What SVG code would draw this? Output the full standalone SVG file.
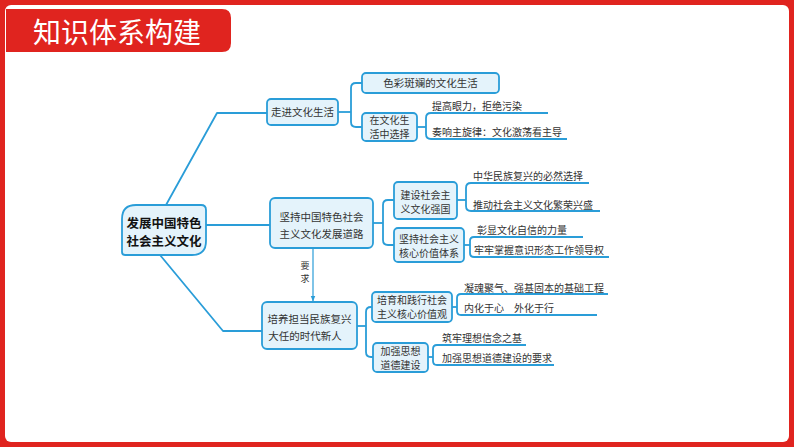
<svg xmlns="http://www.w3.org/2000/svg" width="794" height="447" viewBox="0 0 794 447">
<style>
.box{fill:#e4f3fb;stroke:#2a9dd8;stroke-width:1.8}
.ln{fill:none;stroke:#2a9dd8;stroke-width:1.8;stroke-linejoin:round}
.t{font-family:"Noto Sans CJK SC","Noto Sans",sans-serif;font-size:10.5px;fill:#333}
.c{text-anchor:middle}
.lf{font-size:10px}
.sm{font-size:10px}
.tiny{font-size:9px}
.root{font-family:"Noto Sans CJK SC","Noto Sans",sans-serif;font-size:12.5px;font-weight:bold;fill:#111;text-anchor:middle}
</style>
<defs>
<marker id="ah" viewBox="0 0 10 10" refX="9" refY="5" markerWidth="6" markerHeight="6" orient="auto" markerUnits="userSpaceOnUse">
<path d="M0,1 L10,5 L0,9 Z" fill="#2a9dd8"/>
</marker>
</defs>
<g id="frame">
<rect x="0" y="0" width="794" height="447" fill="#e0241f"/>
<rect x="5" y="5" width="784" height="437" rx="6" fill="#ffffff"/>
<path d="M6,9 H222 Q231,9 231,18 V43 Q231,52 222,52 H6 Z" fill="#e0241f"/>
<text x="117" y="43" font-family="'Noto Sans CJK SC',sans-serif" font-size="28" fill="#ffffff" text-anchor="middle">知识体系构建</text>
</g>
<g id="connectors">
<path class="ln" d="M166,205 L217,113 H267"/>
<path class="ln" d="M206,225 H270"/>
<path class="ln" d="M160,255 L223,331 H262"/>
<path class="ln" d="M338,112 H351"/>
<path class="ln" d="M362,83 H356 Q351,83 351,88 V122 Q351,127 356,127 H362"/>
<path class="ln" d="M417,127 H426"/>
<path class="ln" d="M548,113 H431 Q426,113 426,118 V134 Q426,139 431,139 H567"/>
<path class="ln" d="M373,223 H383"/>
<path class="ln" d="M394,200 H388 Q383,200 383,205 V240 Q383,245 388,245 H394"/>
<path class="ln" d="M457,200 H466"/>
<path class="ln" d="M589,183 H471 Q466,183 466,188 V206 Q466,211 471,211 H600"/>
<path class="ln" d="M464,245 H470"/>
<path class="ln" d="M583,237 H474 Q470,237 470,241 V253 Q470,257 474,257 H609"/>
<path class="ln" d="M357,326 H366"/>
<path class="ln" d="M372,307 H371 Q366,307 366,312 V352 Q366,357 371,357 H373"/>
<path class="ln" d="M452,307 H457"/>
<path class="ln" d="M608,294 H461 Q457,294 457,298 V311 Q457,315 461,315 H597"/>
<path class="ln" d="M428,357 H433"/>
<path class="ln" d="M526,345 H437 Q433,345 433,349 V361 Q433,365 437,365 H554"/>
<path fill="none" stroke="#2a9dd8" stroke-width="1.2" d="M313,248 V301" marker-end="url(#ah)"/>
<text class="t tiny c" x="305" y="269">要</text>
<text class="t tiny c" x="305" y="282">求</text>
</g>
<g id="root">
<path class="box" d="M136,205 H201 Q206,205 206,210 V241 Q206,255 192,255 H125 Q122,255 122,252 V219 Q122,205 136,205 Z"/>
<text class="root" x="164" y="228">发展中国特色</text>
<text class="root" x="164" y="246">社会主义文化</text>
</g>
<g id="n-zoujin">
<rect class="box" x="267" y="99" width="71" height="26" rx="4"/>
<text class="t c" x="302.5" y="116">走进文化生活</text>
</g>
<g id="n-secai">
<rect class="box" x="362" y="73" width="137" height="20" rx="4"/>
<text class="t c" x="430.5" y="87">色彩斑斓的文化生活</text>
</g>
<g id="n-xuanze">
<rect class="box" x="362" y="113" width="55" height="28" rx="4"/>
<text class="t sm c" x="389.5" y="124">在文化生</text>
<text class="t sm c" x="389.5" y="138">活中选择</text>
</g>
<g id="l-tigao"><text class="t lf" x="432" y="110">提高眼力，拒绝污染</text></g>
<g id="l-zouxiang"><text class="t lf" x="432" y="136">奏响主旋律：文化激荡看主导</text></g>
<g id="n-jianchi">
<rect class="box" x="270" y="198" width="103" height="50" rx="5"/>
<text class="t c" x="321.5" y="221">坚持中国特色社会</text>
<text class="t c" x="321.5" y="238">主义文化发展道路</text>
</g>
<g id="n-jianshe">
<rect class="box" x="394" y="182" width="63" height="37" rx="4"/>
<text class="t sm c" x="425.5" y="199">建设社会主</text>
<text class="t sm c" x="425.5" y="213">义文化强国</text>
</g>
<g id="n-hexin">
<rect class="box" x="394" y="228" width="70" height="34" rx="4"/>
<text class="t sm c" x="429" y="243">坚持社会主义</text>
<text class="t sm c" x="429" y="257">核心价值体系</text>
</g>
<g id="l-zhonghua"><text class="t lf" x="473" y="180">中华民族复兴的必然选择</text></g>
<g id="l-tuidong"><text class="t lf" x="473" y="209">推动社会主义文化繁荣兴盛</text></g>
<g id="l-zhangxian"><text class="t lf" x="477" y="234">彰显文化自信的力量</text></g>
<g id="l-laolao"><text class="t lf" x="474" y="254">牢牢掌握意识形态工作领导权</text></g>
<g id="n-peiyang">
<rect class="box" x="262" y="302" width="95" height="47" rx="5"/>
<text class="t c" x="309.5" y="323">培养担当民族复兴</text>
<text class="t c" x="305" y="340">大任的时代新人</text>
</g>
<g id="n-peiyu">
<rect class="box" x="372" y="292" width="80" height="30" rx="4"/>
<text class="t sm c" x="412" y="304">培育和践行社会</text>
<text class="t sm c" x="412" y="318">主义核心价值观</text>
</g>
<g id="n-jiaqiang">
<rect class="box" x="373" y="343" width="55" height="29" rx="4"/>
<text class="t sm c" x="400.5" y="355">加强思想</text>
<text class="t sm c" x="400.5" y="369">道德建设</text>
</g>
<g id="l-ninghun"><text class="t lf" x="464" y="292">凝魂聚气、强基固本的基础工程</text></g>
<g id="l-neihua"><text class="t lf" x="464" y="312">内化于心　外化于行</text></g>
<g id="l-zhulao"><text class="t lf" x="442" y="342">筑牢理想信念之基</text></g>
<g id="l-jiaqiangyq"><text class="t lf" x="442" y="362">加强思想道德建设的要求</text></g>
</svg>
